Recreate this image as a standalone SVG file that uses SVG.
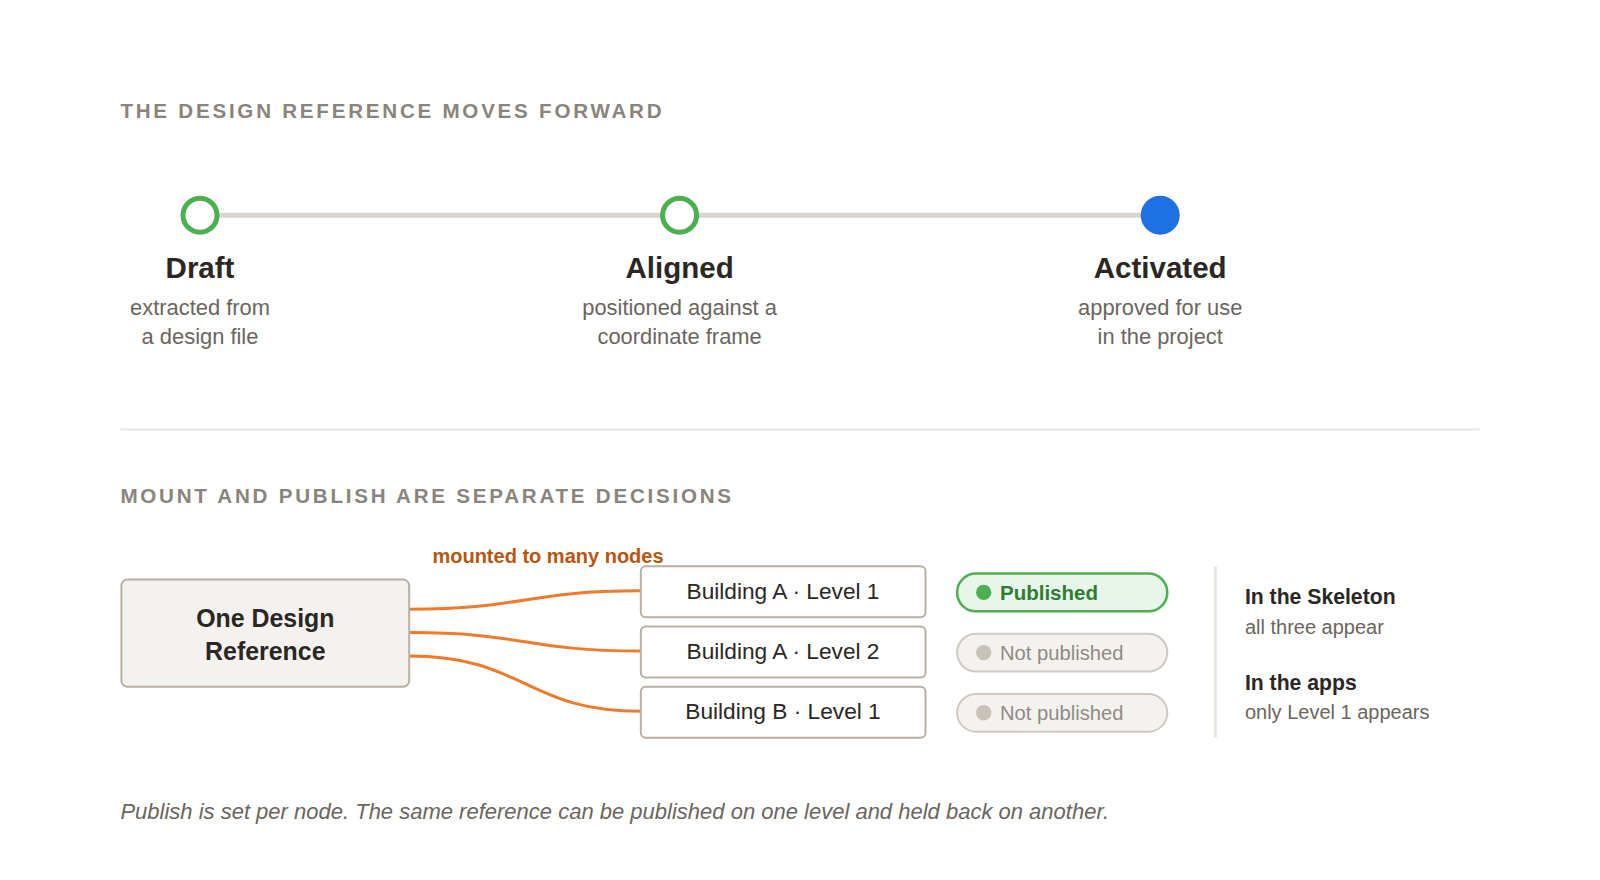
<svg xmlns="http://www.w3.org/2000/svg" width="1600" height="880" viewBox="0 0 1600 880">
<style>
text{font-family:"Liberation Sans",Arial,sans-serif}
.hd{font-size:20.6px;font-weight:bold;fill:#8a847c;letter-spacing:2.75px}
.st{font-size:29.5px;font-weight:bold;fill:#2a2725;text-anchor:middle}
.sub{font-size:21.9px;fill:#6b6560;text-anchor:middle}
.box{fill:#ffffff;stroke:#b8b0a6;stroke-width:2}
.nt{font-size:22.7px;fill:#2a2725;text-anchor:middle}
.con{fill:none;stroke:#f07a2a;stroke-width:3}
.pn{fill:#f4f2ee;stroke:#cfc9c1;stroke-width:2}
.pnt{font-size:20.2px;fill:#8f8a84}
.rb{font-size:21.2px;font-weight:bold;fill:#2a2725}
.rs{font-size:20px;fill:#6b6560}
</style>
<rect width="1600" height="880" fill="#ffffff"/>
<text class="hd" x="120.4" y="117.5">THE DESIGN REFERENCE MOVES FORWARD</text>
<line x1="200" y1="215.3" x2="1160" y2="215.3" stroke="#d9d4ce" stroke-width="5"/>
<g id="draft">
<circle cx="200" cy="215.3" r="17" fill="#ffffff" stroke="#4caf50" stroke-width="5"/>
<text class="st" x="200" y="277.5">Draft</text>
<text class="sub" x="200" y="315.3">extracted from</text>
<text class="sub" x="200" y="343.9">a design file</text>
</g>
<g id="aligned">
<circle cx="679.6" cy="215.3" r="17" fill="#ffffff" stroke="#4caf50" stroke-width="5"/>
<text class="st" x="679.6" y="277.5">Aligned</text>
<text class="sub" x="679.6" y="315.3">positioned against a</text>
<text class="sub" x="679.6" y="343.9">coordinate frame</text>
</g>
<g id="activated">
<circle cx="1160.2" cy="215.3" r="19.5" fill="#1f6fe5"/>
<text class="st" x="1160.2" y="277.5">Activated</text>
<text class="sub" x="1160.2" y="315.3">approved for use</text>
<text class="sub" x="1160.2" y="343.9">in the project</text>
</g>
<line x1="120.4" y1="429.6" x2="1479.6" y2="429.6" stroke="#e9e5e0" stroke-width="2"/>
<text class="hd" x="120.4" y="503">MOUNT AND PUBLISH ARE SEPARATE DECISIONS</text>
<g id="connectors">
<path class="con" d="M409.2 609.2 C525 609.2 525 590.8 640.8 590.8"/>
<path class="con" d="M409.2 632.6 C525 632.6 525 651 640.8 651"/>
<path class="con" d="M409.2 656.1 C525 656.1 525 711.2 640.8 711.2"/>
<text x="548" y="563.3" font-size="20" font-weight="bold" fill="#b8560f" text-anchor="middle">mounted to many nodes</text>
</g>
<g id="source">
<rect x="121.4" y="579.6" width="287.8" height="107.1" rx="6" fill="#f4f2ee" stroke="#b8b0a6" stroke-width="2"/>
<text x="265.3" y="626.5" font-size="24.9" font-weight="bold" fill="#2a2725" text-anchor="middle">One Design</text>
<text x="265.3" y="660.2" font-size="24.9" font-weight="bold" fill="#2a2725" text-anchor="middle">Reference</text>
</g>
<g id="nodeA1">
<rect class="box" x="640.8" y="566.3" width="284.7" height="51" rx="5"/>
<text class="nt" x="783" y="599">Building A · Level 1</text>
</g>
<g id="nodeA2">
<rect class="box" x="640.8" y="626.5" width="284.7" height="51" rx="5"/>
<text class="nt" x="783" y="659.2">Building A · Level 2</text>
</g>
<g id="nodeB1">
<rect class="box" x="640.8" y="686.7" width="284.7" height="51" rx="5"/>
<text class="nt" x="783" y="719.4">Building B · Level 1</text>
</g>
<g id="pill1">
<rect x="957.1" y="573.5" width="210.2" height="37.8" rx="18.9" fill="#e8f5e9" stroke="#4caf50" stroke-width="2.5"/>
<circle cx="983.7" cy="592.4" r="7.7" fill="#4caf50"/>
<text x="1000" y="600" font-size="20.5" font-weight="bold" fill="#2e7d32">Published</text>
</g>
<g id="pill2">
<rect class="pn" x="957.1" y="633.7" width="210.2" height="37.8" rx="18.9"/>
<circle cx="983.7" cy="652.6" r="7.7" fill="#c9c2b9"/>
<text class="pnt" x="1000" y="660.2">Not published</text>
</g>
<g id="pill3">
<rect class="pn" x="957.1" y="693.9" width="210.2" height="37.8" rx="18.9"/>
<circle cx="983.7" cy="712.8" r="7.7" fill="#c9c2b9"/>
<text class="pnt" x="1000" y="720.4">Not published</text>
</g>
<line x1="1215.3" y1="566.3" x2="1215.3" y2="737.7" stroke="#e9e5e0" stroke-width="3"/>
<g id="notes">
<text class="rb" x="1244.9" y="604">In the Skeleton</text>
<text class="rs" x="1244.9" y="633.7">all three appear</text>
<text class="rb" x="1244.9" y="689.8">In the apps</text>
<text class="rs" x="1244.9" y="719.4">only Level 1 appears</text>
</g>
<text x="120.4" y="819.4" font-size="22" font-style="italic" fill="#6b6560">Publish is set per node. The same reference can be published on one level and held back on another.</text>
</svg>
